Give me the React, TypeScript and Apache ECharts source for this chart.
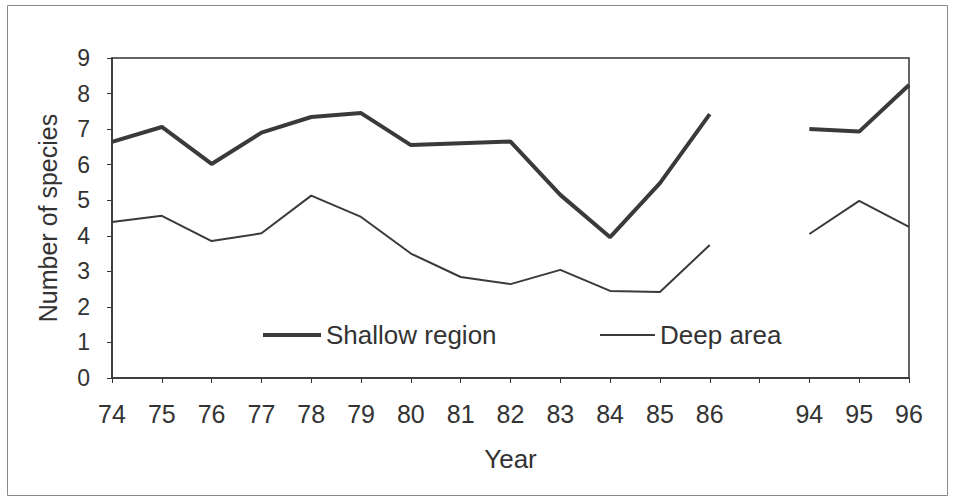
import React, { useEffect, useRef } from "react";
import * as echarts from "echarts";

const years: string[] = ["74", "75", "76", "77", "78", "79", "80", "81", "82", "83", "84", "85", "86", "", "94", "95", "96"];
const shallowRegion: (number | null)[] = [6.64, 7.06, 6.02, 6.9, 7.34, 7.45, 6.55, 6.6, 6.65, 5.15, 3.96, 5.48, 7.42, null, 7.0, 6.93, 8.24];
const deepArea: (number | null)[] = [4.39, 4.56, 3.85, 4.07, 5.13, 4.53, 3.5, 2.84, 2.64, 3.04, 2.45, 2.42, 3.74, null, 4.05, 4.98, 4.25];
const yTicks = { min: 0, max: 9, interval: 1 };

const FONT = "'Liberation Sans', Arial, sans-serif";
const INK = "#333333";
const LINE = "#3a3a3a";

export default function App() {
  const ref = useRef<HTMLDivElement>(null);
  useEffect(() => {
    if (!ref.current) return;
    const chart = echarts.init(ref.current, undefined, { renderer: "svg" });
    chart.setOption({
      animation: false,
      backgroundColor: "#ffffff",
      textStyle: { fontFamily: FONT, color: INK },
      graphic: [
        {
          type: "rect",
          shape: { x: 7.5, y: 5.5, width: 940, height: 490 },
          style: { fill: "none", stroke: "#8a8a8a", lineWidth: 1 },
          silent: true,
        },
      ],
      grid: {
        left: 112,
        right: 44,
        top: 58,
        bottom: 120,
        show: true,
        borderColor: INK,
        borderWidth: 1.5,
        backgroundColor: "transparent",
      },
      legend: [
        {
          data: [{ name: "Shallow region", icon: "rect" }],
          left: 258,
          top: 317,
          itemWidth: 58,
          itemHeight: 4,
          itemGap: 5,
          itemStyle: { color: LINE },
          textStyle: { fontFamily: FONT, fontSize: 26, color: INK },
          selectedMode: false,
        },
        {
          data: [{ name: "Deep area", icon: "rect" }],
          left: 595,
          top: 317,
          itemWidth: 55,
          itemHeight: 2,
          itemStyle: { color: LINE },
          textStyle: { fontFamily: FONT, fontSize: 26, color: INK },
          selectedMode: false,
        },
      ],
      xAxis: {
        type: "category",
        data: years,
        boundaryGap: false,
        name: "Year",
        nameLocation: "middle",
        nameGap: 68,
        nameTextStyle: { fontFamily: FONT, fontSize: 26, color: INK },
        axisLine: { lineStyle: { color: INK, width: 1.5 } },
        axisTick: { show: true, length: 5, inside: false, lineStyle: { color: INK } },
        axisLabel: { fontFamily: FONT, fontSize: 25, color: INK, margin: 23, interval: 0 },
        splitLine: { show: false },
      },
      yAxis: {
        type: "value",
        min: yTicks.min,
        max: yTicks.max,
        interval: yTicks.interval,
        name: "Number of species",
        nameLocation: "middle",
        nameGap: 52,
        nameTextStyle: { fontFamily: FONT, fontSize: 25, color: INK },
        axisLine: { show: true, lineStyle: { color: INK, width: 1.5 } },
        axisTick: { show: true, length: 5, lineStyle: { color: INK } },
        axisLabel: { fontFamily: FONT, fontSize: 23, color: INK, margin: 22 },
        splitLine: { show: false },
      },
      series: [
        {
          name: "Shallow region",
          type: "line",
          data: shallowRegion,
          symbol: "none",
          connectNulls: false,
          lineStyle: { color: LINE, width: 4 },
          itemStyle: { color: LINE },
        },
        {
          name: "Deep area",
          type: "line",
          data: deepArea,
          symbol: "none",
          connectNulls: false,
          lineStyle: { color: LINE, width: 2 },
          itemStyle: { color: LINE },
        },
      ],
    });
    return () => chart.dispose();
  }, []);
  return (
    <div
      ref={ref}
      style={{ position: "fixed", left: 0, top: 0, width: 953, height: 498, background: "#fff" }}
    />
  );
}
